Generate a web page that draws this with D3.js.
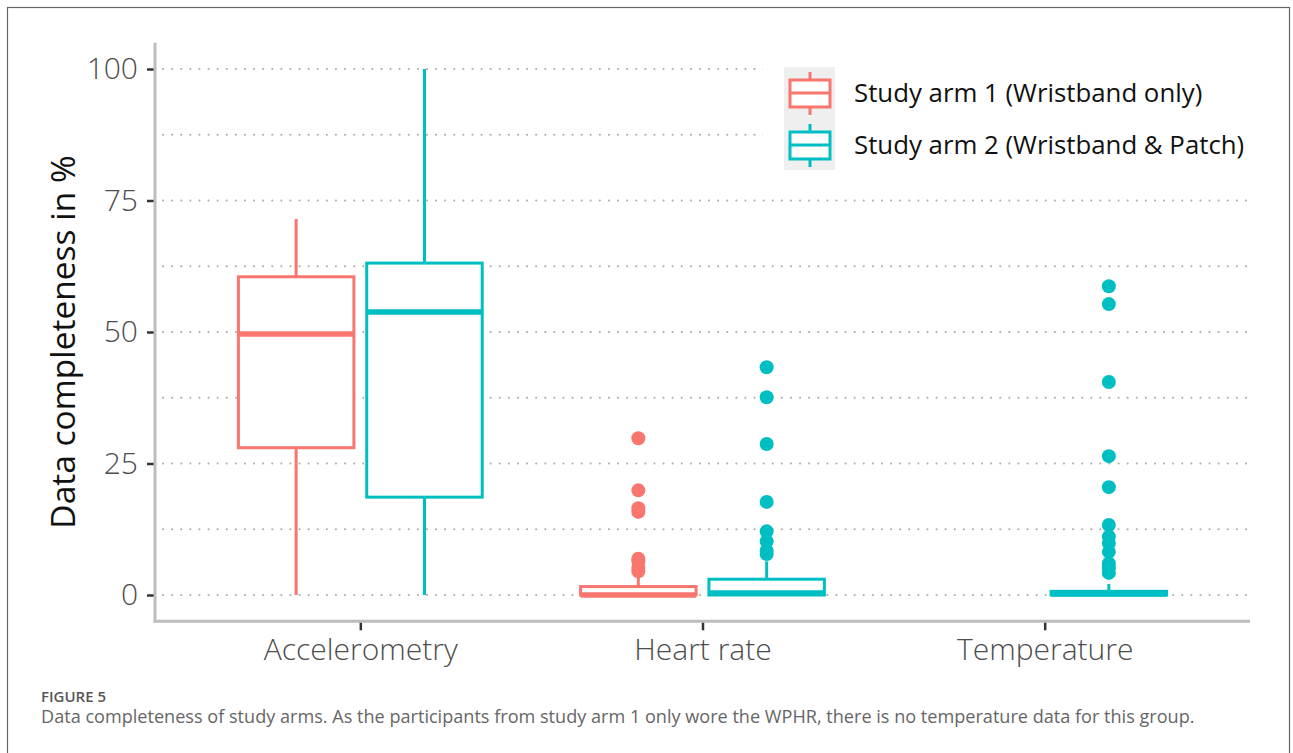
<!DOCTYPE html>
<html>
<head>
<meta charset="utf-8">
<script src="https://cdn.jsdelivr.net/npm/d3@7"></script>
<style>
  body { margin: 0; background: #fff; }
  svg { display: block; }
  .tick text { font-family: "Open Sans", sans-serif; }
</style>
</head>
<body>
<svg id="chart"></svg>
<script>
// ---- data ----
const categories = ["Accelerometry", "Heart rate", "Temperature"];
const arms = ["Study arm 1 (Wristband only)", "Study arm 2 (Wristband & Patch)"];
const armColors = ["#F8766D", "#00BFC4"];
const yTicks = [0, 25, 50, 75, 100];
const yMinor = [12.5, 37.5, 62.5, 87.5];

// box stats per arm, one entry per category: [whiskerLow, q1, median, q3, whiskerHigh]
const arm1Stats = [[0, 28.0, 49.6, 60.5, 71.5], [0, 0, 0, 1.6, 3.4], null];
const arm2Stats = [[0, 18.6, 53.8, 63.1, 100], [0, 0, 0.4, 3.0, 6.4], [0, 0, 0.2, 0.7, 2.1]];

// outliers per arm, one array per category
const arm1Outliers = [[], [4.5, 5.2, 6.4, 6.9, 15.8, 16.5, 19.9, 29.8], []];
const arm2Outliers = [[], [7.8, 8.4, 10.2, 12.1, 17.7, 28.7, 37.6, 43.3],
  [4.2, 5.1, 6.0, 8.2, 9.9, 11.1, 13.3, 20.5, 26.4, 40.5, 55.3, 58.7]];

const caption = "Data completeness of study arms. As the participants from study arm 1 only wore the WPHR, there is no temperature data for this group.";

// ---- layout ----
const W = 1293, H = 753;
const panel = {left: 155, right: 1250, top: 42.7, bottom: 621.3};

const svg = d3.select("#chart").attr("width", W).attr("height", H);

// outer figure frame
svg.append("rect")
  .attr("x", 7.5).attr("y", 7.5)
  .attr("width", 1282).attr("height", 760)
  .attr("fill", "none").attr("stroke", "#666").attr("stroke-width", 1.2);

const x = d3.scalePoint().domain(categories).range([panel.left, panel.right]).padding(0.6);
const y = d3.scaleLinear().domain([-5, 105]).range([panel.bottom, panel.top]);

const unit = x.step();
const dodge = unit * 0.1875;
const boxW = unit * 0.3375;

// gridlines (dotted)
const grid = svg.append("g");
grid.selectAll("line")
  .data(yTicks.concat(yMinor))
  .join("line")
  .attr("x1", panel.left + 8).attr("x2", panel.right)
  .attr("y1", d => y(d)).attr("y2", d => y(d))
  .attr("stroke", "#ababab").attr("stroke-width", 2)
  .attr("stroke-linecap", "round")
  .attr("stroke-dasharray", "0.1 9");

// white legend backdrop (legend sits inside the panel)
svg.append("rect")
  .attr("x", 763).attr("y", 55).attr("width", 495).attr("height", 125)
  .attr("fill", "#fff");

// ---- boxes ----
const allStats = [arm1Stats, arm2Stats];
const allOutliers = [arm1Outliers, arm2Outliers];
const marks = svg.append("g");

allStats.forEach((stats, a) => {
  const col = armColors[a];
  const off = a === 0 ? -dodge : dodge;
  stats.forEach((s, i) => {
    if (!s) return;
    const cx = x(categories[i]) + off;
    const g = marks.append("g");
    // whiskers
    g.append("line").attr("x1", cx).attr("x2", cx)
      .attr("y1", y(s[3])).attr("y2", y(s[4]))
      .attr("stroke", col).attr("stroke-width", 3);
    g.append("line").attr("x1", cx).attr("x2", cx)
      .attr("y1", y(s[0])).attr("y2", y(s[1]))
      .attr("stroke", col).attr("stroke-width", 3);
    // box
    g.append("rect")
      .attr("x", cx - boxW / 2).attr("width", boxW)
      .attr("y", y(s[3])).attr("height", y(s[1]) - y(s[3]))
      .attr("fill", "#fff").attr("stroke", col).attr("stroke-width", 3);
    // median
    g.append("line")
      .attr("x1", cx - boxW / 2).attr("x2", cx + boxW / 2)
      .attr("y1", y(s[2])).attr("y2", y(s[2]))
      .attr("stroke", col).attr("stroke-width", 5.5);
    // outliers
    g.selectAll("circle")
      .data(allOutliers[a][i])
      .join("circle")
      .attr("cx", cx).attr("cy", d => y(d)).attr("r", 7)
      .attr("fill", col);
  });
});

// ---- axes ----
const yAxis = d3.axisLeft(y).tickValues(yTicks).tickSize(7).tickPadding(9);
const yAxisG = svg.append("g").attr("transform", `translate(${panel.left - 1},0)`).call(yAxis);
yAxisG.select(".domain").remove();
yAxisG.selectAll(".tick line").attr("stroke", "#333").attr("stroke-width", 2.5);
yAxisG.selectAll(".tick text")
  .attr("fill", "#4d4d4d").style("font-size", "30px").style("font-weight", 300);

const xAxis = d3.axisBottom(x).tickSize(8).tickPadding(8);
const xAxisG = svg.append("g").attr("transform", `translate(0,${panel.bottom + 1})`).call(xAxis);
xAxisG.select(".domain").remove();
xAxisG.selectAll(".tick line").attr("stroke", "#333").attr("stroke-width", 2.5);
xAxisG.selectAll(".tick text")
  .attr("fill", "#4d4d4d").style("font-size", "30px").style("font-weight", 300);

// panel axis lines (grey)
svg.append("line")
  .attr("x1", panel.left).attr("x2", panel.left)
  .attr("y1", panel.top).attr("y2", panel.bottom + 1)
  .attr("stroke", "#bdbdbd").attr("stroke-width", 3);
svg.append("line")
  .attr("x1", panel.left - 1.5).attr("x2", panel.right)
  .attr("y1", panel.bottom).attr("y2", panel.bottom)
  .attr("stroke", "#bdbdbd").attr("stroke-width", 3);

// y title
svg.append("text")
  .attr("transform", `translate(75,${(y(0) + y(100)) / 2 + 10}) rotate(-90)`)
  .attr("text-anchor", "middle")
  .style("font-family", "'Open Sans', sans-serif")
  .style("font-size", "33.5px")
  .attr("fill", "#111")
  .text("Data completeness in %");

// ---- legend ----
const legend = svg.append("g");
legend.append("rect")
  .attr("x", 784).attr("y", 67).attr("width", 51).attr("height", 103)
  .attr("fill", "#efefef");
arms.forEach((name, a) => {
  const cy = 93 + a * 52;
  const col = armColors[a];
  const k = legend.append("g");
  k.append("line").attr("x1", 810).attr("x2", 810).attr("y1", cy - 21).attr("y2", cy + 22)
    .attr("stroke", col).attr("stroke-width", 3);
  k.append("rect").attr("x", 790).attr("y", cy - 13).attr("width", 40).attr("height", 27)
    .attr("fill", "#fff").attr("stroke", col).attr("stroke-width", 3);
  k.append("line").attr("x1", 790).attr("x2", 830).attr("y1", cy).attr("y2", cy)
    .attr("stroke", col).attr("stroke-width", 3);
  k.append("text")
    .attr("x", 854).attr("y", cy + 9)
    .style("font-family", "'Open Sans', sans-serif")
    .style("font-size", "25.8px")
    .attr("fill", "#111")
    .text(name);
});

// ---- caption ----
svg.append("text")
  .attr("x", 41).attr("y", 702)
  .style("font-family", "'Open Sans', sans-serif")
  .style("font-size", "15px").style("font-weight", 600)
  .attr("fill", "#555")
  .text("FIGURE 5");
svg.append("text")
  .attr("x", 41).attr("y", 723)
  .style("font-family", "'Open Sans', sans-serif")
  .style("font-size", "18.1px")
  .attr("fill", "#666")
  .text(caption);
</script>
</body>
</html>
